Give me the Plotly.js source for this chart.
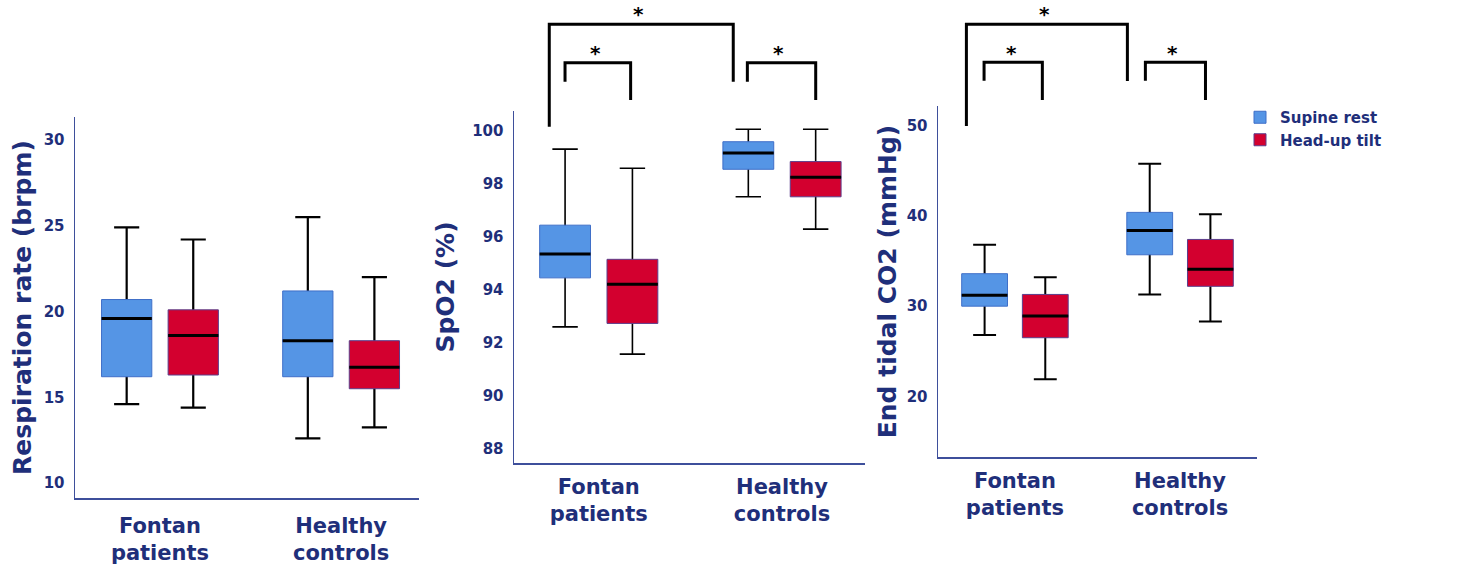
<!DOCTYPE html>
<html>
<head>
<meta charset="utf-8">
<script src="https://cdn.plot.ly/plotly-3.0.1.min.js"></script>
<style>html,body{margin:0;padding:0;background:#fff;}#chart{width:1468px;height:567px;}</style>
</head>
<body>
<div id="chart"></div>
<script>
// ---------- DATA ----------
const groups = ['Fontan<br>patients', 'Healthy<br>controls'];
const conditions = ['Supine rest', 'Head-up tilt'];

// Respiration rate (brpm)
const rrSupineQ1 = [16.2, 16.2];
const rrSupineMed = [19.6, 18.3];
const rrSupineQ3 = [20.7, 21.2];
const rrSupineLow = [14.6, 12.6];
const rrSupineHigh = [24.9, 25.5];
const rrTiltQ1 = [16.3, 15.5];
const rrTiltMed = [18.6, 16.75];
const rrTiltQ3 = [20.1, 18.3];
const rrTiltLow = [14.4, 13.25];
const rrTiltHigh = [24.2, 22.0];

// SpO2 (%)
const spSupineQ1 = [94.44, 98.54];
const spSupineMed = [95.34, 99.15];
const spSupineQ3 = [96.43, 99.58];
const spSupineLow = [92.59, 97.5];
const spSupineHigh = [99.3, 100.05];
const spTiltQ1 = [92.72, 97.5];
const spTiltMed = [94.2, 98.24];
const spTiltQ3 = [95.14, 98.83];
const spTiltLow = [91.56, 96.28];
const spTiltHigh = [98.58, 100.05];

// End tidal CO2 (mmHg)
const coSupineQ1 = [30.0, 35.7];
const coSupineMed = [31.2, 38.4];
const coSupineQ3 = [33.6, 40.4];
const coSupineLow = [26.8, 31.3];
const coSupineHigh = [36.8, 45.8];
const coTiltQ1 = [26.5, 32.2];
const coTiltMed = [28.9, 34.1];
const coTiltQ3 = [31.3, 37.4];
const coTiltLow = [21.9, 28.3];
const coTiltHigh = [33.2, 40.2];

// ---------- STYLE ----------
const W = 1468, H = 567;
const NAVY = '#1f2f7a';
const AXIS = '#3e4f9b';
const FONT = 'DejaVu Sans, Arial, sans-serif';
const fills = ['#5595e5', '#d3002f'];
const borders = ['#3f6fc8', '#5b3f8c'];

const panels = [
  {xa: 'x', ya: 'y', title: 'Respiration rate (brpm)',
   stats: [[rrSupineQ1, rrSupineMed, rrSupineQ3, rrSupineLow, rrSupineHigh],
           [rrTiltQ1, rrTiltMed, rrTiltQ3, rrTiltLow, rrTiltHigh]],
   xpx: [75, 419], ypx: [117, 498], xrange: [-0.469, 1.43], yrange: [9.13, 31.34], dtick: 5, tick0: 10,
   whisk: 2.2, standoff: 5, xstand: 8},
  {xa: 'x2', ya: 'y2', title: 'SpO2 (%)',
   stats: [[spSupineQ1, spSupineMed, spSupineQ3, spSupineLow, spSupineHigh],
           [spTiltQ1, spTiltMed, spTiltQ3, spTiltLow, spTiltHigh]],
   xpx: [514, 865], ypx: [111, 463], xrange: [-0.4625, 1.453], yrange: [87.45, 100.74], dtick: 2, tick0: 88,
   whisk: 1.6, standoff: 10, xstand: 4},
  {xa: 'x3', ya: 'y3', title: 'End tidal CO2 (mmHg)',
   stats: [[coSupineQ1, coSupineMed, coSupineQ3, coSupineLow, coSupineHigh],
           [coTiltQ1, coTiltMed, coTiltQ3, coTiltLow, coTiltHigh]],
   xpx: [938, 1257], ypx: [106, 457], xrange: [-0.466, 1.466], yrange: [13.27, 52.2], dtick: 10, tick0: 20,
   whisk: 2, standoff: 3, xstand: 4}
];

const traces = [];
panels.forEach((p, pi) => {
  p.stats.forEach((s, ci) => {
    const [q1, med, q3, lo, hi] = s;
    const common = {type: 'box', x: groups, xaxis: p.xa, yaxis: p.ya,
      offsetgroup: 'c' + ci, legendgroup: 'c' + ci, boxpoints: false, hoverinfo: 'skip'};
    // whiskers
    traces.push(Object.assign({}, common, {
      q1: med, median: med, q3: med, lowerfence: lo, upperfence: hi,
      line: {color: '#000', width: p.whisk}, fillcolor: 'rgba(0,0,0,0)', showlegend: false, whiskerwidth: 0.5,
      name: conditions[ci]
    }));
    // box
    traces.push(Object.assign({}, common, {
      q1: q1, median: med, q3: q3, lowerfence: q1, upperfence: q3,
      line: {color: borders[ci], width: 1}, fillcolor: fills[ci], whiskerwidth: 0,
      name: conditions[ci], showlegend: pi === 0
    }));
    // median
    traces.push(Object.assign({}, common, {
      q1: med, median: med, q3: med, lowerfence: med, upperfence: med,
      line: {color: '#000', width: 3}, fillcolor: 'rgba(0,0,0,0)', whiskerwidth: 0,
      showlegend: false, name: conditions[ci]
    }));
  });
});

const layout = {
  width: W, height: H,
  margin: {l: 0, r: 0, t: 0, b: 0},
  paper_bgcolor: '#fff', plot_bgcolor: '#fff',
  boxmode: 'group', boxgap: 0.265, boxgroupgap: 0.245,
  showlegend: true,
  legend: {x: 1240 / W, y: 1 - 101 / H, xanchor: 'left', yanchor: 'top',
    font: {family: FONT, size: 15, color: NAVY, weight: 'bold'}, tracegroupgap: 0, bgcolor: 'rgba(0,0,0,0)'},
  shapes: [], annotations: []
};

panels.forEach((p, pi) => {
  const sfx = pi === 0 ? '' : String(pi + 1);
  layout['xaxis' + sfx] = {
    domain: [p.xpx[0] / W, p.xpx[1] / W], anchor: p.ya, type: 'category',
    range: p.xrange, showline: true, linecolor: AXIS, linewidth: 1.5,
    showgrid: false, zeroline: false, ticks: '', ticklabelstandoff: p.xstand,
    tickfont: {family: FONT, size: 21, color: NAVY, weight: 'bold'}, fixedrange: true
  };
  layout['yaxis' + sfx] = {
    domain: [1 - p.ypx[1] / H, 1 - p.ypx[0] / H], anchor: p.xa,
    range: p.yrange, showline: true, linecolor: AXIS, linewidth: 1.5,
    showgrid: false, zeroline: false, ticks: '', dtick: p.dtick, tick0: p.tick0, ticklabelstandoff: 6,
    tickfont: {family: FONT, size: 15, color: NAVY, weight: 'bold'},
    title: {text: p.title, standoff: p.standoff, font: {family: FONT, size: 25, color: NAVY, weight: 'bold'}},
    fixedrange: true
  };
});

// significance brackets: [xref, xLeft, xRight, topPx, leftBottomPx, rightBottomPx, starX, starPx]
const brackets = [
  ['x2', -0.27, 0.734, 24.3, 126.7, 81.7, 0.218, 13.3],
  ['x2', -0.184, 0.174, 62.7, 81.7, 100, -0.02, 51.7],
  ['x2', 0.811, 1.184, 62.7, 81.7, 100, 0.98, 51.7],
  ['x3', -0.294, 0.681, 24.3, 126, 81, 0.18, 13.3],
  ['x3', -0.187, 0.166, 62.3, 80.7, 100, -0.02, 51.7],
  ['x3', 0.79, 1.154, 62.3, 80.7, 100, 0.957, 51.7]
];
const py = v => 1 - v / H;
brackets.forEach(b => {
  const [xr, xl, xrr, top, lb, rb, sx, sy] = b;
  layout.shapes.push({type: 'path', xref: xr, yref: 'paper',
    path: `M ${xl},${py(lb)} L ${xl},${py(top)} L ${xrr},${py(top)} L ${xrr},${py(rb)}`,
    line: {color: '#000', width: 3}});
  layout.annotations.push({xref: xr, yref: 'paper', x: sx, y: py(sy + 1), text: '*', showarrow: false,
    font: {family: FONT, size: 20, color: '#000', weight: 'bold'}, xanchor: 'center', yanchor: 'middle'});
});

Plotly.newPlot('chart', traces, layout, {displayModeBar: false, staticPlot: true});
</script>
</body>
</html>
